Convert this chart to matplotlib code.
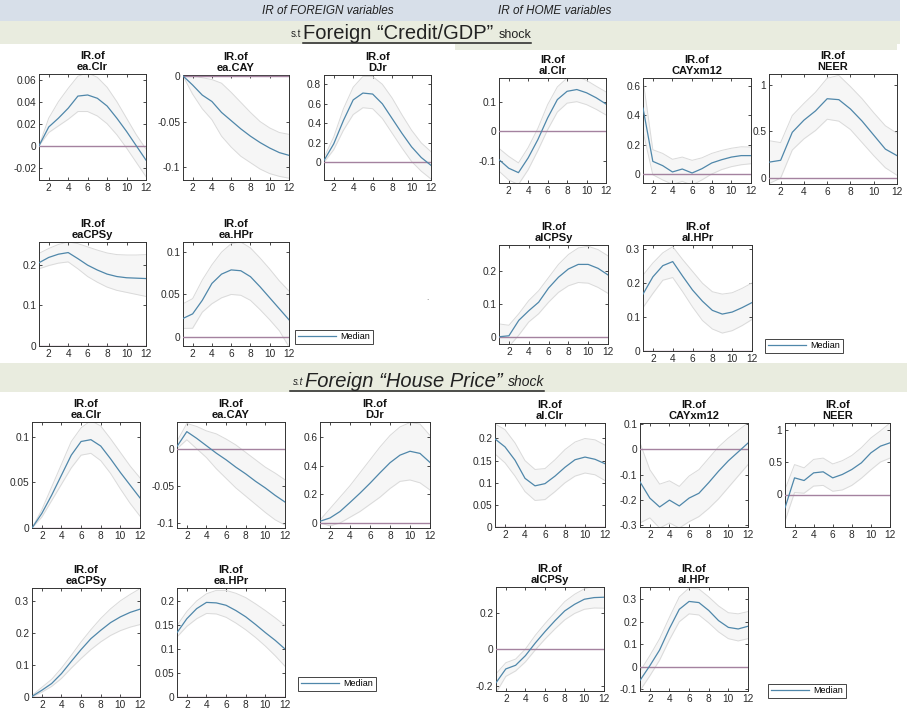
import matplotlib.pyplot as plt
from matplotlib.patches import Rectangle
from matplotlib.ticker import FuncFormatter

plt.rcParams['font.family'] = 'Liberation Sans'

W, H = 912, 714
steps = list(range(1, 13))

# ---- s.t Foreign "Credit/GDP" shock ----
c_ea_clr_med = [0.0, 0.017, 0.025, 0.034, 0.045, 0.046, 0.043, 0.036, 0.025, 0.013, 0.0, -0.013]
c_ea_clr_hi = [0.0, 0.025, 0.040, 0.052, 0.063, 0.066, 0.062, 0.053, 0.040, 0.025, 0.010, -0.003]
c_ea_clr_lo = [0.0, 0.012, 0.018, 0.024, 0.031, 0.031, 0.027, 0.020, 0.010, -0.002, -0.015, -0.028]

c_ea_cay_med = [0.0, -0.010, -0.021, -0.028, -0.040, -0.049, -0.058, -0.066, -0.073, -0.079, -0.084, -0.087]
c_ea_cay_hi = [0.0, 0.0, -0.002, -0.004, -0.008, -0.018, -0.029, -0.040, -0.050, -0.057, -0.062, -0.064]
c_ea_cay_lo = [0.0, -0.020, -0.036, -0.048, -0.066, -0.078, -0.088, -0.095, -0.102, -0.107, -0.110, -0.112]

c_djr_med = [0.02, 0.19, 0.43, 0.64, 0.71, 0.70, 0.60, 0.45, 0.30, 0.16, 0.05, -0.03]
c_djr_hi = [0.05, 0.26, 0.55, 0.77, 0.88, 0.88, 0.80, 0.66, 0.49, 0.33, 0.20, 0.11]
c_djr_lo = [0.0, 0.13, 0.33, 0.49, 0.56, 0.55, 0.45, 0.30, 0.15, 0.01, -0.09, -0.17]

c_al_clr_med = [-0.096, -0.125, -0.14, -0.09, -0.028, 0.045, 0.107, 0.135, 0.141, 0.13, 0.113, 0.092]
c_al_clr_hi = [-0.058, -0.085, -0.107, -0.055, 0.01, 0.09, 0.15, 0.18, 0.185, 0.172, 0.152, 0.133]
c_al_clr_lo = [-0.135, -0.165, -0.18, -0.13, -0.065, 0.005, 0.065, 0.095, 0.1, 0.09, 0.074, 0.055]

c_cayxm12_med = [0.448, 0.086, 0.057, 0.014, 0.034, 0.007, 0.036, 0.075, 0.097, 0.115, 0.125, 0.125]
c_cayxm12_hi = [0.64, 0.165, 0.14, 0.10, 0.115, 0.093, 0.11, 0.14, 0.16, 0.175, 0.185, 0.183]
c_cayxm12_lo = [0.29, -0.005, -0.04, -0.07, -0.05, -0.075, -0.04, 0.0, 0.03, 0.05, 0.063, 0.07]

c_neer_med = [0.17, 0.19, 0.49, 0.62, 0.72, 0.85, 0.84, 0.74, 0.61, 0.46, 0.31, 0.24]
c_neer_hi = [0.40, 0.38, 0.67, 0.80, 0.92, 1.07, 1.10, 0.98, 0.85, 0.70, 0.56, 0.48]
c_neer_lo = [-0.06, 0.0, 0.30, 0.42, 0.51, 0.63, 0.61, 0.52, 0.38, 0.24, 0.11, 0.03]

c_eacpsy_med = [0.205, 0.218, 0.226, 0.230, 0.215, 0.199, 0.187, 0.177, 0.171, 0.168, 0.167, 0.166]
c_eacpsy_hi = [0.228, 0.240, 0.250, 0.256, 0.252, 0.244, 0.236, 0.229, 0.225, 0.224, 0.224, 0.225]
c_eacpsy_lo = [0.190, 0.198, 0.204, 0.207, 0.190, 0.171, 0.157, 0.145, 0.137, 0.132, 0.127, 0.122]

c_ea_hpr_med = [0.0216, 0.027, 0.043, 0.063, 0.074, 0.079, 0.078, 0.071, 0.059, 0.046, 0.033, 0.020]
c_ea_hpr_hi = [0.039, 0.045, 0.067, 0.085, 0.100, 0.110, 0.112, 0.105, 0.093, 0.080, 0.066, 0.054]
c_ea_hpr_lo = [0.0098, 0.010, 0.029, 0.039, 0.046, 0.050, 0.049, 0.043, 0.032, 0.020, 0.007, -0.012]

c_alcpsy_med = [0.0, 0.003, 0.05, 0.079, 0.105, 0.148, 0.181, 0.206, 0.22, 0.22, 0.208, 0.188]
c_alcpsy_hi = [0.039, 0.035, 0.07, 0.11, 0.14, 0.18, 0.22, 0.25, 0.27, 0.275, 0.265, 0.246]
c_alcpsy_lo = [-0.039, -0.03, 0.005, 0.045, 0.07, 0.105, 0.135, 0.155, 0.165, 0.163, 0.15, 0.132]

c_al_hpr_med = [0.168, 0.219, 0.252, 0.264, 0.221, 0.180, 0.147, 0.120, 0.109, 0.115, 0.128, 0.143]
c_al_hpr_hi = [0.224, 0.26, 0.29, 0.308, 0.27, 0.235, 0.2, 0.175, 0.168, 0.172, 0.185, 0.201]
c_al_hpr_lo = [0.128, 0.17, 0.209, 0.217, 0.175, 0.13, 0.09, 0.065, 0.053, 0.06, 0.075, 0.093]

# ---- s.t Foreign "House Price" shock ----
h_ea_clr_med = [0.0, 0.016, 0.036, 0.058, 0.080, 0.095, 0.097, 0.090, 0.076, 0.061, 0.047, 0.033]
h_ea_clr_hi = [0.0, 0.020, 0.045, 0.070, 0.095, 0.110, 0.118, 0.112, 0.098, 0.083, 0.068, 0.055]
h_ea_clr_lo = [0.0, 0.012, 0.030, 0.048, 0.066, 0.080, 0.082, 0.074, 0.060, 0.043, 0.027, 0.013]

h_ea_cay_med = [0.003, 0.023, 0.014, 0.004, -0.006, -0.015, -0.025, -0.034, -0.044, -0.053, -0.063, -0.072]
h_ea_cay_hi = [0.01, 0.034, 0.03, 0.024, 0.02, 0.013, 0.005, -0.005, -0.015, -0.025, -0.033, -0.042]
h_ea_cay_lo = [0.0, 0.012, 0.0, -0.012, -0.027, -0.04, -0.053, -0.064, -0.075, -0.086, -0.096, -0.103]

h_djr_med = [0.012, 0.035, 0.08, 0.143, 0.208, 0.277, 0.35, 0.42, 0.473, 0.50, 0.485, 0.422]
h_djr_hi = [0.02, 0.1, 0.18, 0.26, 0.35, 0.44, 0.53, 0.61, 0.67, 0.70, 0.69, 0.61]
h_djr_lo = [0.0, -0.02, 0.0, 0.04, 0.08, 0.13, 0.18, 0.24, 0.29, 0.30, 0.28, 0.23]

h_al_clr_med = [0.199, 0.181, 0.151, 0.110, 0.093, 0.098, 0.115, 0.135, 0.152, 0.158, 0.153, 0.143]
h_al_clr_hi = [0.233, 0.22, 0.19, 0.15, 0.13, 0.132, 0.152, 0.175, 0.192, 0.2, 0.197, 0.185]
h_al_clr_lo = [0.165, 0.145, 0.115, 0.08, 0.06, 0.062, 0.08, 0.1, 0.115, 0.122, 0.118, 0.105]

h_cayxm12_med = [-0.128, -0.192, -0.227, -0.2, -0.223, -0.192, -0.173, -0.131, -0.086, -0.045, -0.01, 0.025]
h_cayxm12_hi = [0.026, -0.08, -0.137, -0.124, -0.146, -0.105, -0.08, -0.035, 0.01, 0.045, 0.075, 0.105]
h_cayxm12_lo = [-0.29, -0.27, -0.31, -0.29, -0.31, -0.285, -0.265, -0.233, -0.195, -0.15, -0.105, -0.06]

h_neer_med = [-0.205, 0.256, 0.215, 0.333, 0.349, 0.256, 0.308, 0.385, 0.487, 0.641, 0.744, 0.795]
h_neer_hi = [0.077, 0.46, 0.41, 0.54, 0.56, 0.47, 0.52, 0.60, 0.72, 0.87, 0.98, 1.10]
h_neer_lo = [-0.41, 0.03, 0.02, 0.13, 0.14, 0.05, 0.07, 0.14, 0.25, 0.38, 0.50, 0.56]

h_eacpsy_med = [0.002, 0.021, 0.042, 0.073, 0.111, 0.148, 0.182, 0.208, 0.232, 0.25, 0.264, 0.274]
h_eacpsy_hi = [0.005, 0.03, 0.055, 0.09, 0.13, 0.172, 0.21, 0.245, 0.275, 0.30, 0.32, 0.338]
h_eacpsy_lo = [0.0, 0.015, 0.033, 0.058, 0.09, 0.12, 0.148, 0.172, 0.192, 0.207, 0.218, 0.226]

h_ea_hpr_med = [0.134, 0.163, 0.184, 0.197, 0.196, 0.191, 0.18, 0.167, 0.151, 0.134, 0.118, 0.10]
h_ea_hpr_hi = [0.149, 0.178, 0.2, 0.215, 0.222, 0.222, 0.216, 0.207, 0.194, 0.18, 0.165, 0.149]
h_ea_hpr_lo = [0.125, 0.147, 0.163, 0.174, 0.173, 0.166, 0.154, 0.14, 0.124, 0.106, 0.086, 0.064]

h_alcpsy_med = [-0.185, -0.109, -0.089, -0.036, 0.033, 0.096, 0.155, 0.209, 0.245, 0.273, 0.282, 0.284]
h_alcpsy_hi = [-0.136, -0.075, -0.055, 0.0, 0.075, 0.14, 0.2, 0.26, 0.30, 0.33, 0.345, 0.35]
h_alcpsy_lo = [-0.24, -0.15, -0.12, -0.07, -0.005, 0.055, 0.11, 0.16, 0.195, 0.218, 0.225, 0.224]

h_al_hpr_med = [-0.06, 0.005, 0.075, 0.17, 0.255, 0.29, 0.285, 0.25, 0.205, 0.175, 0.168, 0.18]
h_al_hpr_hi = [-0.02, 0.05, 0.125, 0.22, 0.31, 0.35, 0.345, 0.31, 0.27, 0.24, 0.235, 0.245]
h_al_hpr_lo = [-0.105, -0.04, 0.03, 0.12, 0.2, 0.235, 0.23, 0.195, 0.155, 0.125, 0.115, 0.125]

MED_C = '#4f87aa'
BAND_C = '#dadada'
FILL_C = '#f6f6f6'
ZERO_C = '#a4829f'
TXT_C = '#222222'

# (name, median, upper, lower, box in px [left, top, right, bottom], ylim, yticks)
panels = [
    ('ea.Clr', c_ea_clr_med, c_ea_clr_hi, c_ea_clr_lo, (39, 74, 146, 180), (-0.031, 0.065), [-0.02, 0, 0.02, 0.04, 0.06]),
    ('ea.CAY', c_ea_cay_med, c_ea_cay_hi, c_ea_cay_lo, (183, 75, 289, 180), (-0.114, 0.001), [-0.1, -0.05, 0]),
    ('DJr', c_djr_med, c_djr_hi, c_djr_lo, (324, 75, 431, 180), (-0.18, 0.895), [0, 0.2, 0.4, 0.6, 0.8]),
    ('al.Clr', c_al_clr_med, c_al_clr_hi, c_al_clr_lo, (499, 78, 606, 183), (-0.175, 0.18), [-0.1, 0, 0.1]),
    ('CAYxm12', c_cayxm12_med, c_cayxm12_hi, c_cayxm12_lo, (643, 78, 751, 183), (-0.061, 0.652), [0, 0.2, 0.4, 0.6]),
    ('NEER', c_neer_med, c_neer_hi, c_neer_lo, (769, 74, 897, 184), (-0.064, 1.115), [0, 0.5, 1]),
    ('eaCPSy', c_eacpsy_med, c_eacpsy_hi, c_eacpsy_lo, (39, 242, 146, 346), (0, 0.256), [0, 0.1, 0.2]),
    ('ea.HPr', c_ea_hpr_med, c_ea_hpr_hi, c_ea_hpr_lo, (183, 242, 289, 346), (-0.011, 0.112), [0, 0.05, 0.1]),
    ('alCPSy', c_alcpsy_med, c_alcpsy_hi, c_alcpsy_lo, (499, 245, 608, 344), (-0.022, 0.279), [0, 0.1, 0.2]),
    ('al.HPr', c_al_hpr_med, c_al_hpr_hi, c_al_hpr_lo, (643, 245, 752, 351), (0, 0.313), [0, 0.1, 0.2, 0.3]),
    ('ea.Clr', h_ea_clr_med, h_ea_clr_hi, h_ea_clr_lo, (32, 422, 140, 528), (0, 0.1164), [0, 0.05, 0.1]),
    ('ea.CAY', h_ea_cay_med, h_ea_cay_hi, h_ea_cay_lo, (177, 422, 285, 528), (-0.107, 0.036), [-0.1, -0.05, 0]),
    ('DJr', h_djr_med, h_djr_hi, h_djr_lo, (320, 422, 430, 528), (-0.035, 0.704), [0, 0.2, 0.4, 0.6]),
    ('al.Clr', h_al_clr_med, h_al_clr_hi, h_al_clr_lo, (495, 423, 605, 527), (0, 0.235), [0, 0.05, 0.1, 0.15, 0.2]),
    ('CAYxm12', h_cayxm12_med, h_cayxm12_hi, h_cayxm12_lo, (640, 423, 748, 527), (-0.306, 0.104), [-0.3, -0.2, -0.1, 0, 0.1]),
    ('NEER', h_neer_med, h_neer_hi, h_neer_lo, (785, 423, 890, 527), (-0.5, 1.1), [0, 0.5, 1]),
    ('eaCPSy', h_eacpsy_med, h_eacpsy_hi, h_eacpsy_lo, (32, 588, 140, 697), (0, 0.34), [0, 0.1, 0.2, 0.3]),
    ('ea.HPr', h_ea_hpr_med, h_ea_hpr_hi, h_ea_hpr_lo, (177, 588, 285, 697), (0, 0.227), [0, 0.05, 0.1, 0.15, 0.2]),
    ('alCPSy', h_alcpsy_med, h_alcpsy_hi, h_alcpsy_lo, (496, 587, 604, 691), (-0.23, 0.34), [-0.2, 0, 0.2]),
    ('al.HPr', h_al_hpr_med, h_al_hpr_hi, h_al_hpr_lo, (640, 587, 748, 691), (-0.107, 0.354), [-0.1, 0, 0.1, 0.2, 0.3]),
]

# panel index -> legend box (left, top, right, bottom) in px
legends = {7: (295, 330, 372, 344), 9: (765, 339, 845, 353),
           17: (298, 677, 376, 691), 19: (768, 683, 847, 698)}

fig = plt.figure(figsize=(W / 100, H / 100), dpi=100)

# background layer for the header bands
bg = fig.add_axes([0, 0, 1, 1], zorder=-1)
bg.set_xlim(0, W)
bg.set_ylim(H, 0)
bg.axis('off')
bg.add_patch(Rectangle((0, 0), 900, 21, color='#d7dfe9', lw=0))
bg.add_patch(Rectangle((0, 21), 900, 23, color='#e9ecdf', lw=0))
bg.add_patch(Rectangle((455, 44), 442, 6, color='#e9ecdf', lw=0))
bg.add_patch(Rectangle((0, 363), 907, 29, color='#e9ecdf', lw=0))

bg.text(328, 11, 'IR of FOREIGN variables', ha='center', va='center',
        style='italic', fontsize=8.5, color=TXT_C)
bg.text(555, 11, 'IR of HOME variables', ha='center', va='center',
        style='italic', fontsize=8.5, color=TXT_C)

renderer = fig.canvas.get_renderer()


def band_title(x0, y, main, shock_size, italic, line_y, line_x0):
    st = 'italic' if italic else 'normal'
    bg.text(x0 - 2, y - 2, 's.t', ha='right', va='baseline', fontsize=7,
            color=TXT_C, style=st)
    t = bg.text(x0, y, main, ha='left', va='baseline', fontsize=14.5,
                color=TXT_C, style=st)
    ext = t.get_window_extent(renderer)
    x_end = bg.transData.inverted().transform((ext.x1, ext.y0))[0]
    s = bg.text(x_end + 5, y - 1, 'shock', ha='left', va='baseline',
                fontsize=shock_size, color=TXT_C, style=st)
    ext2 = s.get_window_extent(renderer)
    x_end2 = bg.transData.inverted().transform((ext2.x1, ext2.y0))[0]
    bg.plot([line_x0, x_end2], [line_y, line_y], color=TXT_C, lw=1.1)


band_title(303, 39, 'Foreign \u201cCredit/GDP\u201d', 9, False, 42.5, 303)
band_title(305, 387, 'Foreign \u201cHouse Price\u201d', 10, True, 391, 290)

bg.text(427, 298, '.', ha='center', va='center', fontsize=6, color='#666666')

fmt = FuncFormatter(lambda v, p: f'{v:g}')

for i, (name, med, hi, lo, box, ylim, yticks) in enumerate(panels):
    l, t, r, b = box
    ax = fig.add_axes([l / W, 1 - b / H, (r - l) / W, (b - t) / H])
    ax.fill_between(steps, lo, hi, color=FILL_C, lw=0, zorder=1)
    ax.plot(steps, hi, color=BAND_C, lw=0.7, zorder=2)
    ax.plot(steps, lo, color=BAND_C, lw=0.7, zorder=2)
    ax.axhline(0, color=ZERO_C, lw=1.0, zorder=3)
    ax.plot(steps, med, color=MED_C, lw=0.9, zorder=4, label='Median')

    ax.set_xlim(1, 12)
    ax.set_ylim(*ylim)
    ax.set_xticks([2, 4, 6, 8, 10, 12])
    ax.set_yticks(yticks)
    ax.yaxis.set_major_formatter(fmt)
    ax.tick_params(direction='in', length=2, width=0.5, top=True, right=True,
                   labelsize=7.3, labelcolor='#2a2a2a', pad=2)
    for sp in ax.spines.values():
        sp.set_linewidth(0.7)
        sp.set_color('#333333')
    ax.set_title(f'IR.of\n{name}', fontsize=8, fontweight='bold', pad=3,
                 linespacing=1.1, color='#111111')

    if i in legends:
        ll, lt, lr, lb = legends[i]
        leg = ax.legend(loc='lower left', bbox_to_anchor=(ll / W, 1 - lb / H),
                        bbox_transform=fig.transFigure, fontsize=6.5,
                        fancybox=False, edgecolor='#444444', framealpha=1,
                        borderpad=0.3, handlelength=4.2, handletextpad=0.5,
                        borderaxespad=0)
        leg.get_frame().set_linewidth(0.7)

fig.savefig('out.png', dpi=100)
